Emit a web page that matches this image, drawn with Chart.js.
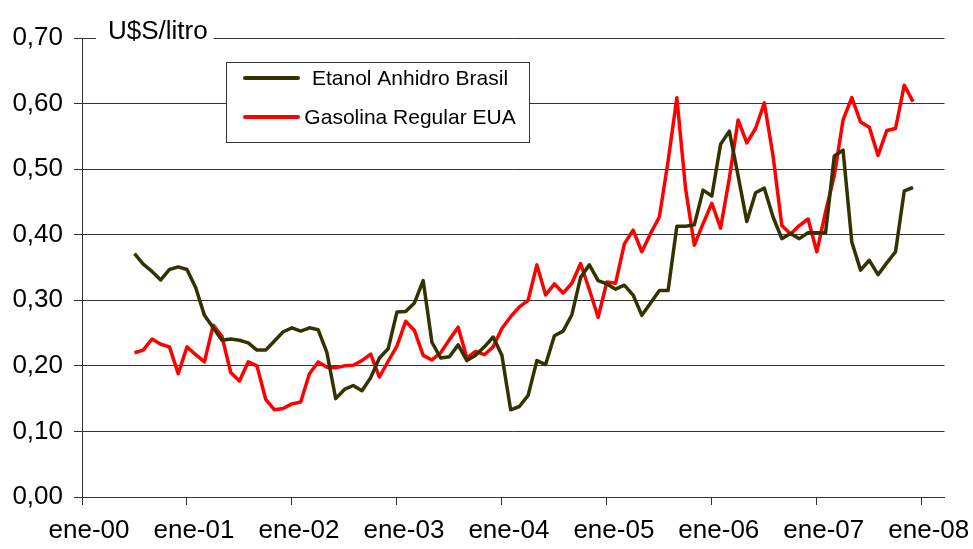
<!DOCTYPE html>
<html>
<head>
<meta charset="utf-8">
<script src="https://cdn.jsdelivr.net/npm/chart.js@4/dist/chart.umd.min.js"></script>
<style>
  html, body { margin: 0; padding: 0; background: #fff; }
  #wrap { width: 973px; height: 549px; }
</style>
</head>
<body>
<div id="wrap"><canvas id="lineChart" width="973" height="549"></canvas></div>
<script>
// precios mensuales, jul-00 a dic-07 (U$S/litro)
const firstMonth = 6; // meses desde ene-00
const yearLabels = ["00", "01", "02", "03", "04", "05", "06", "07", "08"];
const seriesNames = ["Etanol Anhidro Brasil", "Gasolina Regular EUA"];

const etanol = [
  0.371, 0.355, 0.344, 0.331, 0.347, 0.351, 0.347, 0.319, 0.277, 0.258,
  0.239, 0.241, 0.239, 0.235, 0.224, 0.224, 0.238, 0.252, 0.258, 0.253,
  0.258, 0.255, 0.220, 0.150, 0.164, 0.170, 0.162, 0.182, 0.212, 0.226,
  0.282, 0.283, 0.296, 0.330, 0.236, 0.212, 0.214, 0.232, 0.208, 0.216,
  0.229, 0.244, 0.216, 0.133, 0.138, 0.155, 0.208, 0.202, 0.246, 0.253,
  0.278, 0.335, 0.354, 0.330, 0.325, 0.317, 0.323, 0.308, 0.277, 0.296,
  0.315, 0.315, 0.413, 0.413, 0.415, 0.468, 0.459, 0.538, 0.558, 0.490,
  0.420, 0.464, 0.471, 0.427, 0.394, 0.402, 0.394, 0.403, 0.403, 0.403,
  0.520, 0.529, 0.389, 0.346, 0.361, 0.339, 0.357, 0.374, 0.467, 0.472,
];

const gasolina = [
  0.220, 0.224, 0.241, 0.233, 0.229, 0.188, 0.229, 0.217, 0.206, 0.262,
  0.245, 0.190, 0.177, 0.206, 0.200, 0.149, 0.133, 0.135, 0.142, 0.145,
  0.188, 0.206, 0.198, 0.197, 0.200, 0.201, 0.208, 0.218, 0.183, 0.207,
  0.230, 0.268, 0.254, 0.216, 0.209, 0.220, 0.240, 0.259, 0.212, 0.222,
  0.217, 0.229, 0.257, 0.275, 0.290, 0.300, 0.354, 0.308, 0.325, 0.311,
  0.326, 0.356, 0.316, 0.274, 0.328, 0.326, 0.386, 0.407, 0.374, 0.402,
  0.427, 0.512, 0.609, 0.470, 0.384, 0.417, 0.448, 0.410, 0.486, 0.575,
  0.540, 0.562, 0.601, 0.520, 0.414, 0.401, 0.414, 0.424, 0.374, 0.435,
  0.490, 0.575, 0.609, 0.572, 0.564, 0.521, 0.559, 0.562, 0.628, 0.603,
];

const FONT = '"Liberation Sans", Arial, sans-serif';
const toPoints = (arr) => arr.map((v, i) => ({ x: firstMonth + i, y: v }));

// titulo del eje y y leyenda dibujados dentro del area
const overlay = {
  id: "overlay",
  afterDraw(chart) {
    const { ctx, chartArea: a } = chart;
    ctx.save();

    // "U$S/litro" cortando la linea superior
    ctx.font = "26px " + FONT;
    const txt = "U$S/litro";
    const w = ctx.measureText(txt).width;
    const tx = a.left + 26;
    ctx.fillStyle = "#fff";
    ctx.fillRect(tx - 12, a.top - 3, w + 18, 6);
    ctx.fillStyle = "#000";
    ctx.textBaseline = "alphabetic";
    ctx.fillText(txt, tx, a.top + 1);

    // leyenda
    const lx = a.left + 144, ly = a.top + 24;
    ctx.fillStyle = "#fff";
    ctx.fillRect(lx, ly, 303, 80);
    ctx.strokeStyle = "#333";
    ctx.lineWidth = 1;
    ctx.strokeRect(lx + 0.5, ly + 0.5, 303, 80);

    ctx.font = "21px " + FONT;
    ctx.textAlign = "center";
    ctx.textBaseline = "middle";
    const rows = [ly + 16, ly + 55];
    chart.data.datasets.forEach((ds, i) => {
      ctx.strokeStyle = ds.borderColor;
      ctx.lineWidth = 4;
      ctx.lineCap = "round";
      ctx.beginPath();
      ctx.moveTo(lx + 19, rows[i]);
      ctx.lineTo(lx + 72, rows[i]);
      ctx.stroke();
      ctx.fillStyle = "#000";
      ctx.fillText(ds.label, lx + 184, rows[i] + 1);
    });
    ctx.restore();
  },
};

const ctx = document.getElementById("lineChart").getContext("2d");
const myChart = new Chart(ctx, {
  type: "line",
  data: {
    datasets: [
      {
        label: seriesNames[0],
        data: toPoints(etanol),
        borderColor: "#333300",
        borderWidth: 3.5,
        pointRadius: 0,
        tension: 0,
        borderJoinStyle: "round",
      },
      {
        label: seriesNames[1],
        data: toPoints(gasolina),
        borderColor: "#ff0000",
        borderWidth: 3.5,
        pointRadius: 0,
        tension: 0,
        borderJoinStyle: "round",
      },
    ],
  },
  options: {
    responsive: false,
    animation: false,
    layout: {
      padding: { top: 38, right: 28, left: 0, bottom: 0 },
    },
    plugins: {
      legend: { display: false },
      tooltip: { enabled: false },
    },
    scales: {
      x: {
        type: "linear",
        min: 0,
        max: 98.6,
        grid: {
          drawOnChartArea: false,
          tickLength: 8,
          color: "#333",
        },
        border: { color: "#333" },
        ticks: {
          autoSkip: false,
          maxRotation: 0,
          labelOffset: 7,
          padding: 10,
          color: "#000",
          font: { family: FONT, size: 26 },
          callback: (v) => "ene-" + yearLabels[v / 12],
        },
        // una marca por enero
        afterBuildTicks: (scale) => {
          scale.ticks = yearLabels.map((_, i) => ({ value: i * 12 }));
        },
        afterFit: (scale) => {
          scale.height = 52;
        },
      },
      y: {
        min: 0,
        max: 0.7,
        grid: {
          color: "#333",
          tickLength: 8,
        },
        border: { color: "#333" },
        ticks: {
          stepSize: 0.1,
          padding: 11,
          color: "#000",
          font: { family: FONT, size: 26 },
          callback: (v) => v.toFixed(2).replace(".", ","),
        },
        afterFit: (scale) => {
          scale.width = 82;
        },
      },
    },
  },
  plugins: [overlay],
});
</script>
</body>
</html>
